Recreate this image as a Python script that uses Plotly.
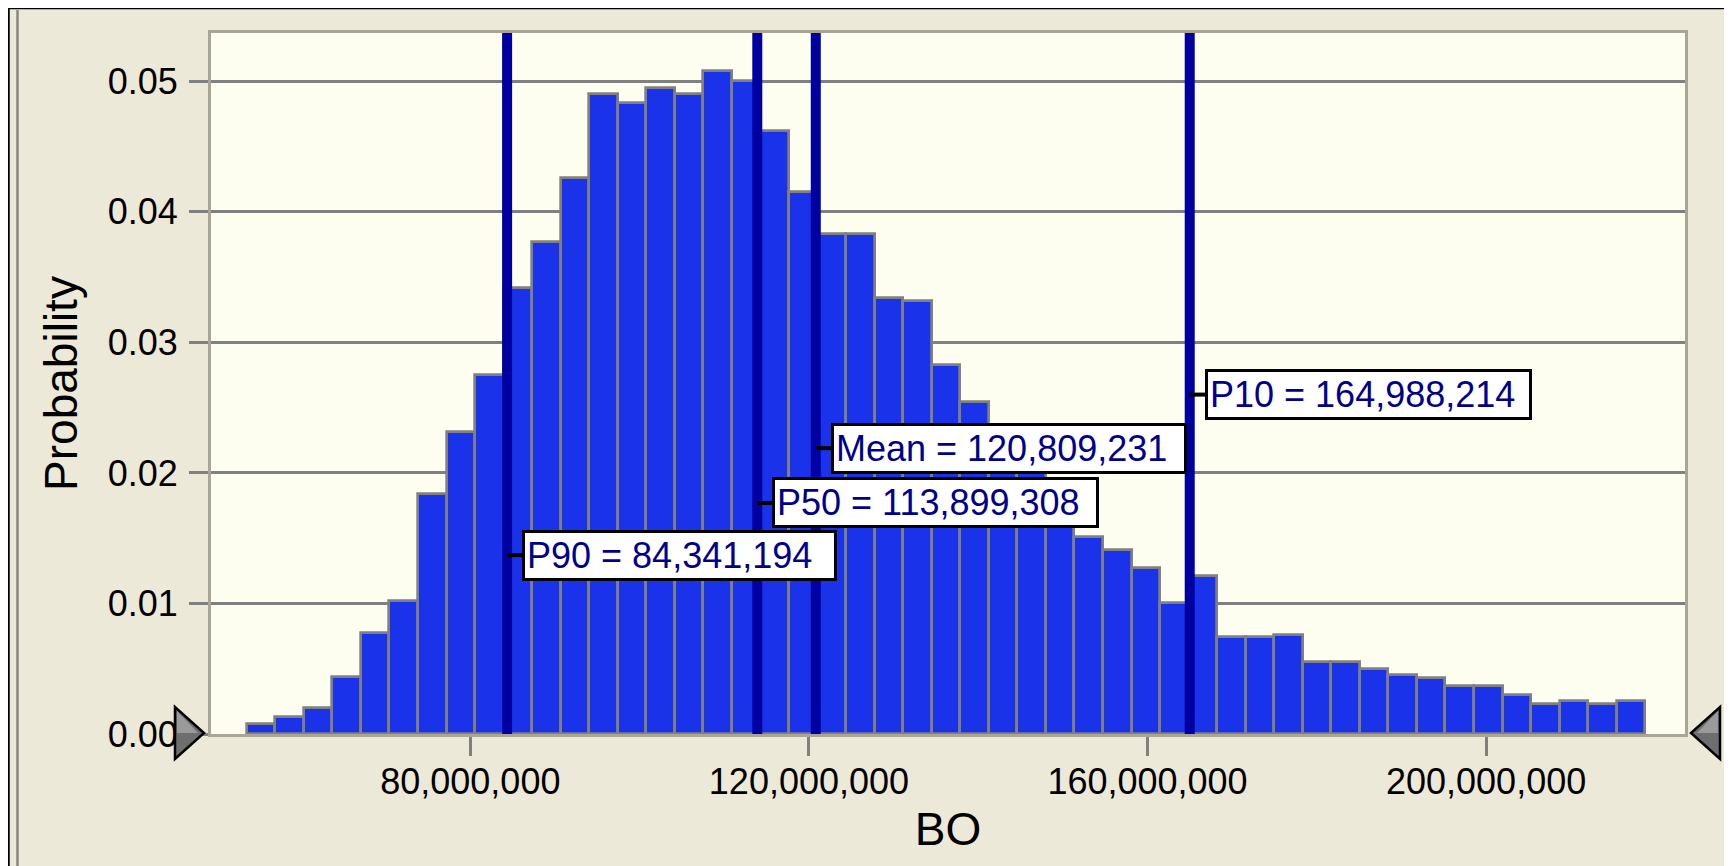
import plotly.graph_objects as go

# ---------------- data ----------------
bin_start = 53.58e6
bin_width = 3.372e6
probabilities = [
    0.00078, 0.0013, 0.0020, 0.0044, 0.0077, 0.0102, 0.0184, 0.0231, 0.0275, 0.0342,
    0.0377, 0.0426, 0.0490, 0.0483, 0.0495, 0.0490, 0.0508, 0.0500, 0.0462, 0.0415,
    0.0383, 0.0383, 0.0334, 0.0332, 0.0283, 0.0254, 0.0218, 0.0203, 0.0176, 0.0151,
    0.0141, 0.0127, 0.0100, 0.0121, 0.0074, 0.0074, 0.0076, 0.0055, 0.0055, 0.0050,
    0.0045, 0.0043, 0.0037, 0.0037, 0.0030, 0.0023, 0.0025, 0.0023, 0.0025,
]
bin_centers = [bin_start + bin_width * (i + 0.5) for i in range(len(probabilities))]

stat_names = ["P90", "P50", "Mean", "P10"]
stat_values = [84341194, 113899308, 120809231, 164988214]
stat_label_y = [0.0137, 0.0177, 0.0219, 0.0260]

x_tick_vals = [80e6, 120e6, 160e6, 200e6]
x_tick_text = ["80,000,000", "120,000,000", "160,000,000", "200,000,000"]
y_tick_vals = [0.0, 0.01, 0.02, 0.03, 0.04, 0.05]
y_tick_text = ["0.00", "0.01", "0.02", "0.03", "0.04", "0.05"]

x_range = [49.36e6, 223.5e6]
y_range = [0.0, 0.0537]

# ---------------- layout / style constants ----------------
W, H = 1732, 866
OFF = 8                      # page body margin in the browser
L, R, T, B = 203, 55, 25, 140
FONT = "Liberation Sans, Arial, sans-serif"
label_box_widths = [305, 317, 346, 317]


def px(xp):
    """screen x pixel -> paper coordinate"""
    return (xp - OFF - L) / (W - L - R)


def py(yp):
    """screen y pixel -> paper coordinate"""
    return (H - B - (yp - OFF)) / (H - T - B)


def tri(points):
    return "M " + " L ".join(f"{px(a)},{py(b)}" for a, b in points) + " Z"


fig = go.Figure()
fig.add_trace(go.Bar(
    x=bin_centers,
    y=probabilities,
    width=bin_width,
    marker=dict(color="#1A33EA", line=dict(color="#808080", width=2.7)),
    hoverinfo="skip",
))

shapes = []
annotations = []
for name, val, ly, bw in zip(stat_names, stat_values, stat_label_y, label_box_widths):
    shapes.append(dict(type="line", xref="x", yref="paper", x0=val, x1=val, y0=0, y1=1,
                       line=dict(color="#0000A0", width=10)))
    shapes.append(dict(type="line", xref="x", yref="y", xsizemode="pixel", xanchor=val,
                       x0=0, x1=16, y0=ly, y1=ly, line=dict(color="black", width=4)))
    annotations.append(dict(
        x=val, y=ly, xref="x", yref="y", xanchor="left", yanchor="middle", xshift=15,
        text=f"{name} = {val:,}", showarrow=False, width=bw, align="left",
        font=dict(family=FONT, size=36, color="#00008A"),
        bgcolor="white", bordercolor="black", borderwidth=3, borderpad=2,
    ))

# window decorations (frame, splitter, slider arrows)
shapes += [
    dict(type="line", xref="paper", yref="paper", x0=px(7), x1=px(W + 20), y0=py(8), y1=py(8),
         line=dict(color="black", width=2.5)),
    dict(type="line", xref="paper", yref="paper", x0=px(8.5), x1=px(8.5), y0=py(8), y1=py(H + 20),
         line=dict(color="black", width=2.5)),
    dict(type="line", xref="paper", yref="paper", x0=px(17.5), x1=px(17.5), y0=py(10), y1=py(H + 20),
         line=dict(color="#88877F", width=2.5)),
    # left slider arrow
    dict(type="path", xref="paper", yref="paper",
         path=tri([(175, 707), (175, 759), (204, 733)]),
         fillcolor="#6E6E6E", line=dict(color="black", width=2.5)),
    dict(type="path", xref="paper", yref="paper",
         path=tri([(177, 711), (177, 733), (198, 733)]),
         fillcolor="#9A9A9A", line=dict(width=0)),
    # right slider arrow
    dict(type="path", xref="paper", yref="paper",
         path=tri([(1720, 707), (1720, 759), (1691, 733)]),
         fillcolor="#6E6E6E", line=dict(color="black", width=2.5)),
    dict(type="path", xref="paper", yref="paper",
         path=tri([(1718, 711), (1718, 733), (1697, 733)]),
         fillcolor="#9A9A9A", line=dict(width=0)),
]

fig.update_layout(
    width=W, height=H,
    margin=dict(l=L, r=R, t=T, b=B, pad=0),
    paper_bgcolor="#ECE9D8",
    plot_bgcolor="#FEFEF0",
    showlegend=False,
    bargap=0,
    shapes=shapes,
    annotations=annotations,
    font=dict(family=FONT, size=36, color="black"),
)
fig.update_xaxes(
    range=x_range, tickmode="array", tickvals=x_tick_vals, ticktext=x_tick_text,
    ticks="outside", ticklen=19, tickwidth=2.5, tickcolor="#808080",
    tickfont=dict(family=FONT, size=36, color="black"), ticklabelstandoff=-5,
    showgrid=False, zeroline=False,
    showline=True, mirror=True, linecolor="#A9A597", linewidth=3,
    title=dict(text="BO", font=dict(family=FONT, size=46, color="black"), standoff=12),
)
fig.update_yaxes(
    range=y_range, tickmode="array", tickvals=y_tick_vals, ticktext=y_tick_text,
    ticks="outside", ticklen=19, tickwidth=2.5, tickcolor="#808080",
    tickfont=dict(family=FONT, size=36, color="black"), ticklabelstandoff=4,
    showgrid=True, gridcolor="#808080", gridwidth=2.7, zeroline=False,
    showline=True, mirror=True, linecolor="#A9A597", linewidth=3,
    title=dict(text="Probability", font=dict(family=FONT, size=46, color="black"), standoff=16),
)

fig.write_html("out.html")
